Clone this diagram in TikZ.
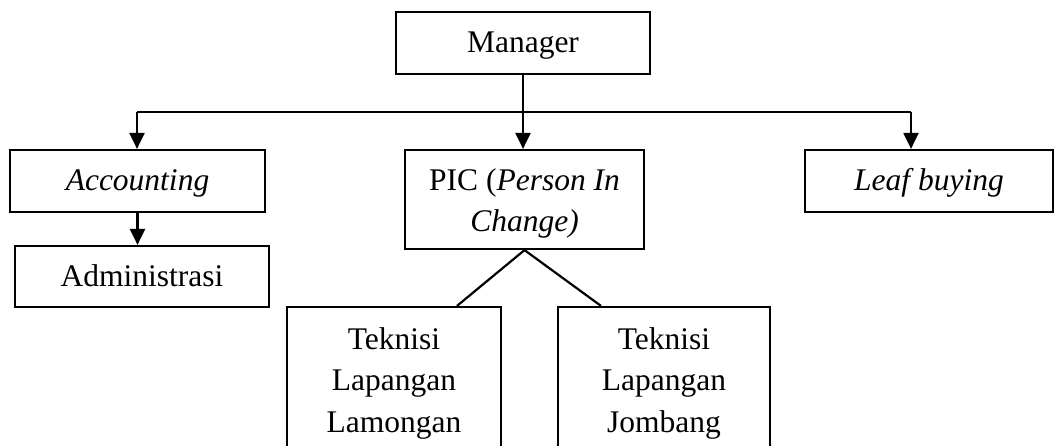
\documentclass[tikz,border=0pt]{standalone}
\usepackage{fontspec}
\setmainfont{Liberation Serif}
\usetikzlibrary{arrows.meta,calc}
\begin{document}
\begin{tikzpicture}[x=1pt,y=1pt,
  box/.style={draw,line width=2.2pt,rectangle,inner sep=0pt,align=center,
    font=\fontsize{31.5}{41.5}\selectfont},
  oneline/.style={text height=23pt,text depth=3pt},
  conn/.style={line width=2.2pt},
  arr/.style={conn,-{Triangle[length=16pt,width=15pt]}}]
\useasboundingbox (0,0) rectangle (1054,-446);
\clip (0,0) rectangle (1054,-446);
\node[box,oneline,minimum width=254pt,minimum height=62pt] (mgr) at (523,-43) {Manager};
\node[box,oneline,minimum width=255pt,minimum height=62pt] (acc) at (137.5,-181) {\itshape Accounting};
\node[box,oneline,minimum width=254pt,minimum height=61pt] (adm) at (142,-276.5) {Administrasi};
\node[box,minimum width=239pt,minimum height=99pt] (pic) at (524.5,-199.5) {\rule{0pt}{30pt}PIC (\textit{Person In}\\\textit{Change)}};
\node[box,oneline,minimum width=248pt,minimum height=62pt] (leaf) at (929,-181) {\itshape Leaf buying};
\node[box,minimum width=214pt,minimum height=152pt] (lam) at (394,-383) {Teknisi\\Lapangan\\Lamongan};
\node[box,minimum width=212pt,minimum height=152pt] (jom) at (664,-383) {Teknisi\\Lapangan\\Jombang};
\coordinate (hl) at (137,-112);
\coordinate (hr) at (911,-112);
\draw[arr] (mgr.south) -- (mgr.south |- pic.north);
\draw[conn] (hl) -- (hr);
\draw[arr] (hl) -- (hl |- acc.north);
\draw[arr] (hr) -- (hr |- leaf.north);
\draw[arr] (acc.south) -- (acc.south |- adm.north);
\draw[conn] (pic.south) -- ($(lam.north)+(63,0)$);
\draw[conn] (pic.south) -- ($(jom.north)+(-63,0)$);
\end{tikzpicture}
\end{document}
